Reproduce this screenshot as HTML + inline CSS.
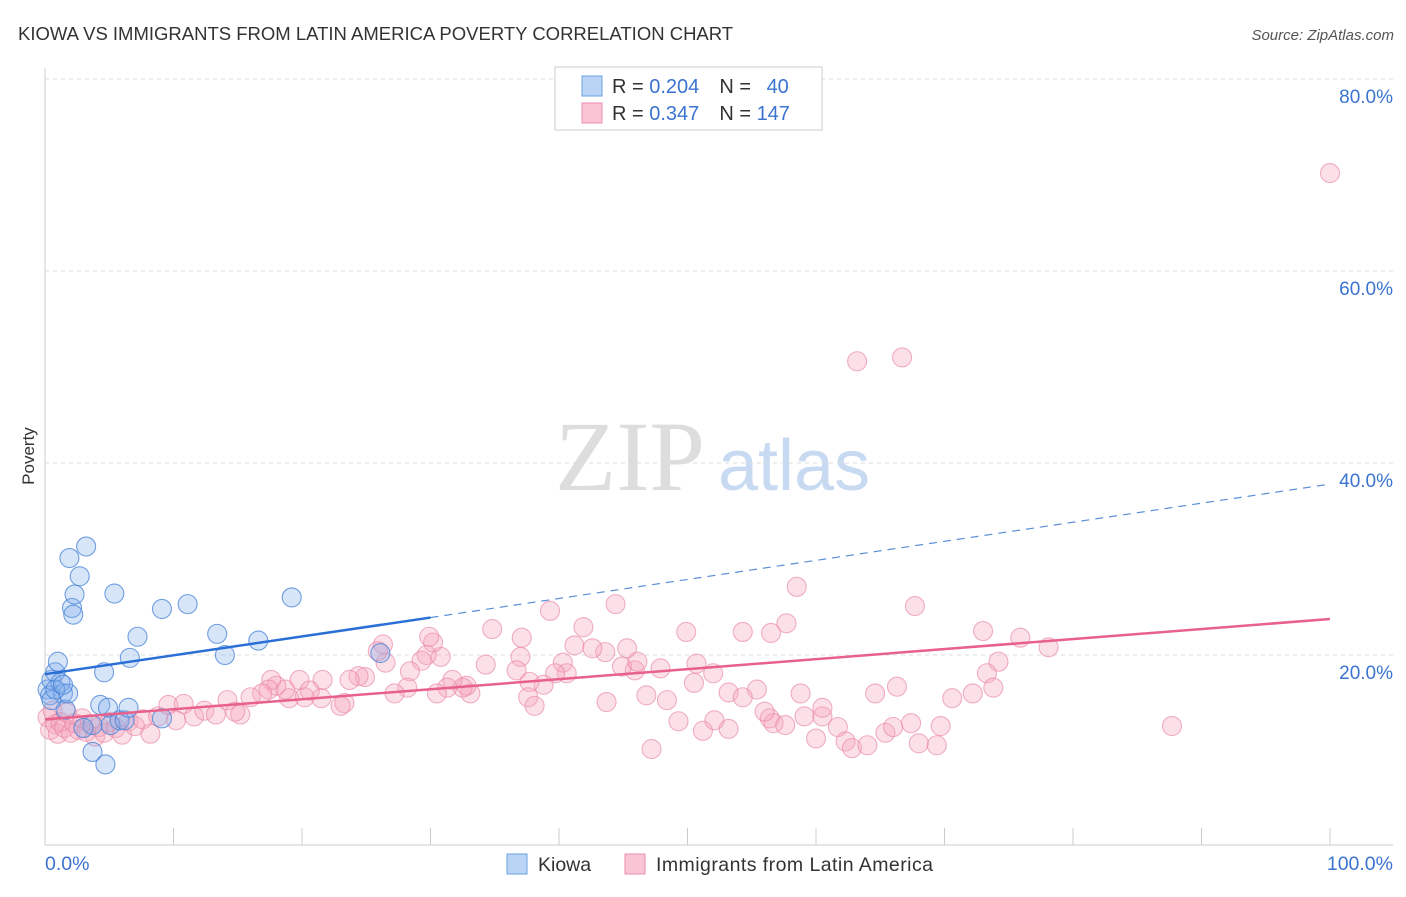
<!DOCTYPE html>
<html><head><meta charset="utf-8"><style>
body{margin:0;background:#fff;font-family:"Liberation Sans",sans-serif}
</style></head><body>
<svg width="1406" height="892" xmlns="http://www.w3.org/2000/svg">
<text x="18" y="40" font-size="18.5" fill="#333">KIOWA VS IMMIGRANTS FROM LATIN AMERICA POVERTY CORRELATION CHART</text>
<text x="1394" y="40" font-size="15" fill="#555" font-style="italic" text-anchor="end">Source: ZipAtlas.com</text>
<text x="555" y="490" font-size="100" fill="#ddd" font-family="Liberation Serif">ZIP</text>
<text x="718" y="490" font-size="72" fill="#c8daf2">atlas</text>
<g id="grid"></g>
<g id="axes"></g>
<g id="pts"></g>
<g id="trends"></g>
<text x="34" y="456" font-size="17" fill="#333" transform="rotate(-90 34 456)" text-anchor="middle">Poverty</text>
<g>
<rect x="555" y="67" width="267" height="63" fill="#fff" stroke="#ccc"/>
<rect x="582" y="76" width="20" height="20" fill="#b9d4f5" stroke="#6a9fe0"/>
<rect x="582" y="103" width="20" height="20" fill="#f9c4d4" stroke="#ec8eae"/>
<text x="612" y="93" font-size="20" fill="#333">R = <tspan fill="#3b73d1">0.204</tspan><tspan dx="20">N = </tspan><tspan dx="10" fill="#3b73d1">40</tspan></text>
<text x="612" y="120" font-size="20" fill="#333">R = <tspan fill="#3b73d1">0.347</tspan><tspan dx="20">N = </tspan><tspan fill="#3b73d1">147</tspan></text>
</g>
<g>
<rect x="507" y="854" width="20" height="20" fill="#b9d4f5" stroke="#6a9fe0"/>
<text x="538" y="871" font-size="19.5" fill="#333">Kiowa</text>
<rect x="625" y="854" width="20" height="20" fill="#f9c4d4" stroke="#ec8eae"/>
<text x="656" y="871" font-size="19.5" fill="#333" textLength="277">Immigrants from Latin America</text>
</g>
</svg>
<script>
const xTicks=[0,10,20,30,40,50,60,70,80,90,100];
const yTicks=[20,40,60,80];
const blueX=[0.2,0.4,0.5,0.8,1.0,1.2,1.4,1.6,1.8,1.9,2.1,2.2,2.3,2.7,3.2,4.3,4.6,4.9,5.1,5.4,5.8,6.2,6.5,6.6,7.2,9.1,9.1,11.1,13.4,14.0,16.6,19.2,26.1,3.7,4.7,3.7,3.0,0.5,0.8,1.4];
const blueY=[16.4,15.8,17.4,18.2,19.3,17.1,16.0,14.3,16.0,30.1,24.9,24.2,26.3,28.2,31.3,14.8,18.2,14.5,12.7,26.4,13.2,13.2,14.5,19.7,21.9,24.8,13.4,25.3,22.2,20.0,21.5,26.0,20.2,9.9,8.6,12.7,12.4,15.3,16.4,16.9];
const pinkX=[100.0,63.2,66.7,58.5,44.4,67.7,39.3,34.8,49.9,54.3,56.5,57.7,73.0,75.9,78.1,74.2,73.3,73.8,72.2,70.6,64.6,66.3,58.8,55.4,53.2,50.5,52.0,50.7,47.9,45.9,44.9,46.1,45.3,43.6,41.2,40.3,41.9,42.6,40.6,39.7,38.8,37.7,37.0,37.1,36.7,34.3,33.1,32.8,32.5,31.7,31.3,30.5,30.8,30.2,29.9,29.7,29.3,28.4,28.2,27.2,26.5,26.3,25.9,24.9,24.4,23.7,23.3,23.0,21.6,21.5,20.2,19.8,20.6,19.0,18.7,18.0,17.6,17.4,16.9,37.6,38.1,43.7,46.8,48.4,54.3,56.4,56.7,57.6,59.1,60.5,60.5,61.7,62.3,62.8,64.0,65.4,66.0,67.4,68.0,69.4,69.7,87.7,47.2,49.3,51.2,52.1,53.2,60.0,56.0,
0.2,0.4,0.6,0.8,1.0,1.2,1.5,1.7,2.0,2.3,2.6,2.9,3.2,3.5,3.9,4.2,4.6,5.0,5.5,6.0,6.5,7.0,7.6,8.2,8.8,9.6,10.2,10.8,11.6,12.4,13.3,14.2,15.2,16.0,14.8];
const pinkY=[70.2,50.6,51.0,27.1,25.3,25.1,24.6,22.7,22.4,22.4,22.3,23.3,22.5,21.8,20.8,19.3,18.1,16.6,16.0,15.5,16.0,16.7,16.0,16.4,16.1,17.1,18.1,19.1,18.6,18.4,18.8,19.3,20.7,20.3,21.0,19.2,22.9,20.7,18.1,18.1,16.9,17.2,19.8,21.8,18.4,19.0,16.0,16.8,16.6,17.4,16.6,16.0,19.8,21.3,21.9,20.0,19.4,18.3,16.6,16.0,19.2,21.1,20.4,17.7,17.8,17.4,15.0,14.7,17.4,15.5,15.6,17.4,16.3,15.5,16.4,16.8,17.4,16.4,16.0,15.6,14.7,15.1,15.8,15.3,15.6,13.4,12.9,12.7,13.6,13.6,14.5,12.5,11.0,10.3,10.6,11.9,12.5,12.9,10.8,10.6,12.6,12.6,10.2,13.1,12.1,13.2,12.3,11.3,14.1,
13.5,12.2,14.2,12.8,11.8,13.0,12.4,14.0,11.9,12.9,12.2,13.4,12.0,12.8,11.5,12.5,11.9,13.0,12.4,11.7,13.1,12.6,13.3,11.8,13.6,14.8,13.2,14.9,13.6,14.2,13.8,15.3,13.8,15.6,14.1];
const blueTrendX=[0,30,100];
const blueTrendY=[18.0,23.9,37.8];
const pinkTrendX=[0,100];
const pinkTrendY=[13.3,23.75];

const NS="http://www.w3.org/2000/svg";
const X0=45,X1=1330,Y0=847,PY=9.6;
const sx=v=>X0+(X1-X0)*v/100;
const sy=v=>Y0-v*PY;
function mk(tag,attrs,parent){const e=document.createElementNS(NS,tag);for(const k in attrs)e.setAttribute(k,attrs[k]);document.getElementById(parent).appendChild(e);return e;}
yTicks.forEach(t=>{
  const l=mk('line',{x1:45,x2:1393,y1:sy(t),y2:sy(t),stroke:'#ddd','stroke-dasharray':'4,4'},'grid');
  
  
  const tx=mk('text',{x:1393,y:sy(t)+24,'font-size':19,fill:'#3b73d1','text-anchor':'end'},'grid');
  tx.textContent=t.toFixed(1)+'%';
  
  
});
const ax=mk('line',{x1:45,x2:1393,y1:845,y2:845,stroke:'#ccc'},'axes');


const ay=mk('line',{x1:45,x2:45,y1:68,y2:845,stroke:'#ccc'},'axes');


xTicks.forEach(t=>{
  const l=mk('line',{x1:sx(t),x2:sx(t),y1:828,y2:845,stroke:'#ccc'},'axes');
  
  
});
[[0,'0.0%',45,'start'],[100,'100.0%',1393,'end']].forEach(a=>{
  const tx=mk('text',{x:a[2],y:870,'font-size':19.5,fill:'#3b73d1','text-anchor':a[3]},'axes');
  tx.textContent=a[1];
  
  
});
pinkX.forEach((v,i)=>{
  const c=mk('circle',{cx:sx(v),cy:sy(pinkY[i]),r:9.5,fill:'rgba(245,165,190,0.35)',stroke:'rgba(232,135,165,0.65)','stroke-width':1.1},'pts');
  
  
});
blueX.forEach((v,i)=>{
  const c=mk('circle',{cx:sx(v),cy:sy(blueY[i]),r:9.5,fill:'rgba(130,175,235,0.32)',stroke:'rgba(70,130,215,0.75)','stroke-width':1.1},'pts');
  
  
});
const b1=mk('line',{x1:sx(blueTrendX[0]),y1:sy(blueTrendY[0]),x2:sx(blueTrendX[1]),y2:sy(blueTrendY[1]),stroke:'#2a6fd6','stroke-width':2.5},'trends');


const b2=mk('line',{x1:sx(blueTrendX[1]),y1:sy(blueTrendY[1]),x2:sx(blueTrendX[2]),y2:sy(blueTrendY[2]),stroke:'#5a8fd8','stroke-width':1.2,'stroke-dasharray':'8,6'},'trends');


const p1=mk('line',{x1:sx(pinkTrendX[0]),y1:sy(pinkTrendY[0]),x2:sx(pinkTrendX[1]),y2:sy(pinkTrendY[1]),stroke:'#e8608c','stroke-width':2.5},'trends');


</script>
</body></html>
